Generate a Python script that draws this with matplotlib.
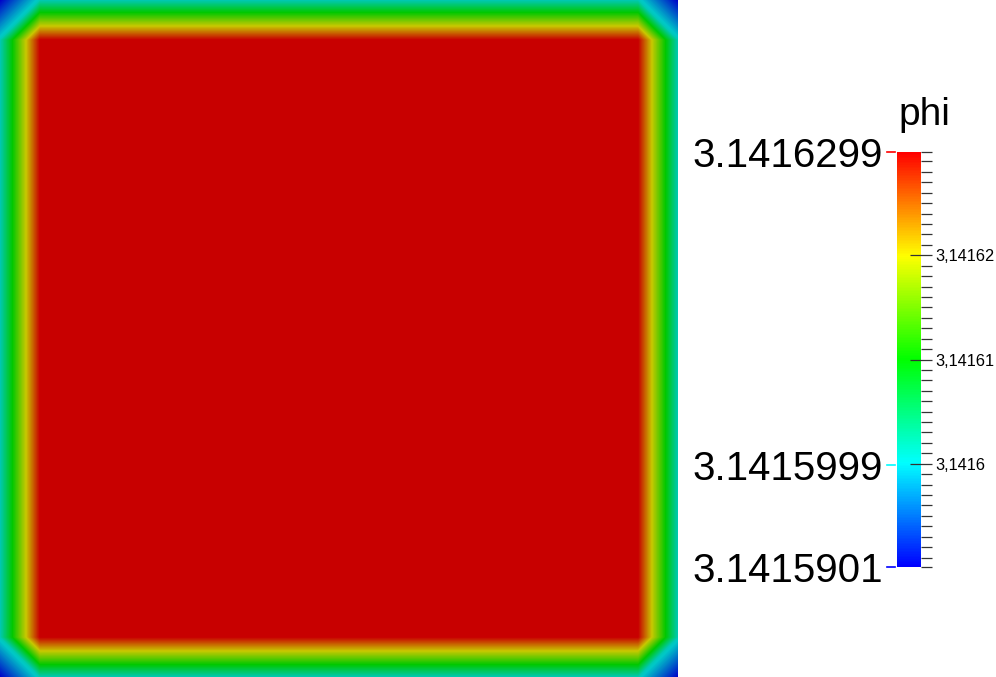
import matplotlib
matplotlib.use('Agg')
import matplotlib.pyplot as plt
import matplotlib.tri as mtri
import matplotlib.transforms as mtransforms
import numpy as np
from matplotlib.cm import ScalarMappable
from matplotlib.colors import LinearSegmentedColormap, ListedColormap, Normalize

# phi at the mesh nodes
n_cells = 17
phi_inner = 3.1416299
phi_edge = 3.1416010
phi_corner = 3.1415901

# colour bar
phi_min = 3.1415901
phi_max = 3.1416299
mark_values = [3.1416299, 3.1415999, 3.1415901]
mark_labels = ['3.1416299', '3.1415999', '3.1415901']
major_ticks = [3.14160, 3.14161, 3.14162]
major_labels = ['3,1416', '3,14161', '3,14162']
minor_ticks = [phi_min] + list(np.round(np.arange(3.141591, 3.1416295, 1e-6), 7)) + [phi_max]

rainbow = LinearSegmentedColormap.from_list(
    'rainbow_pv', ['#0000ff', '#00ffff', '#00ff00', '#ffff00', '#ff0000'], N=256)
# the surface is lit, so it looks a little darker than the bar
shade = rainbow(np.linspace(0, 1, 256))
shade[:, :3] *= 0.785
field_cmap = ListedColormap(shade)
norm = Normalize(phi_min, phi_max)

# node grid
n = n_cells + 1
phi = np.full((n, n), phi_inner)
phi[0, :] = phi_edge
phi[-1, :] = phi_edge
phi[:, 0] = phi_edge
phi[:, -1] = phi_edge
phi[0, 0] = phi[0, -1] = phi[-1, 0] = phi[-1, -1] = phi_corner

xs = np.linspace(0, 1, n)
X, Y = np.meshgrid(xs, xs)
tris = []
for j in range(n_cells):
    for i in range(n_cells):
        a = j * n + i
        b = a + 1
        d = a + n
        c = d + 1
        cx = (i + 0.5) / n_cells - 0.5
        cy = (j + 0.5) / n_cells - 0.5
        if cx * cy < 0:
            tris += [[a, b, c], [a, c, d]]
        else:
            tris += [[a, b, d], [b, c, d]]
tri = mtri.Triangulation(X.ravel(), Y.ravel(), tris)
interp = mtri.LinearTriInterpolator(tri, phi.ravel())
g = (np.arange(677) + 0.5) / 677
GX, GY = np.meshgrid(g, g)
field = interp(GX, GY)

fig = plt.figure(figsize=(9.96, 6.77), dpi=100)
ax = fig.add_axes([0, 0, 677 / 996, 1])
ax.imshow(field, origin='lower', extent=[0, 1, 0, 1], cmap=field_cmap, norm=norm,
          interpolation='nearest', aspect='auto')
ax.set_axis_off()

cax = fig.add_axes([897 / 996, 110 / 677, 24 / 996, 415 / 677])
cb = fig.colorbar(ScalarMappable(norm=norm, cmap=rainbow), cax=cax)
cb.outline.set_visible(False)
cb.set_ticks(major_ticks, labels=major_labels)
cb.set_ticks(minor_ticks, minor=True)
cax.tick_params(which='major', direction='inout', length=16, width=0.9, color='#333333',
                labelsize=11.8, pad=2)
cax.tick_params(which='minor', direction='out', length=8, width=0.9, color='#333333')
for lab in cax.get_yticklabels():
    lab.set_family('Liberation Sans')

trans = mtransforms.blended_transform_factory(cax.transAxes, cax.transData)
for v, lab in zip(mark_values, mark_labels):
    cax.plot([-0.42, -0.08], [v, v], color=rainbow(norm(v)), lw=1.2,
             transform=trans, clip_on=False)
    cax.text(-0.58, v, lab, transform=trans, ha='right', va='center_baseline',
             fontsize=29, family='Liberation Sans')
cax.set_ylim(phi_min, phi_max)

fig.text(898 / 996, (677 - 125) / 677, 'phi', fontsize=28, family='Liberation Sans',
         ha='left', va='baseline')

fig.savefig('out.png', dpi=100)
